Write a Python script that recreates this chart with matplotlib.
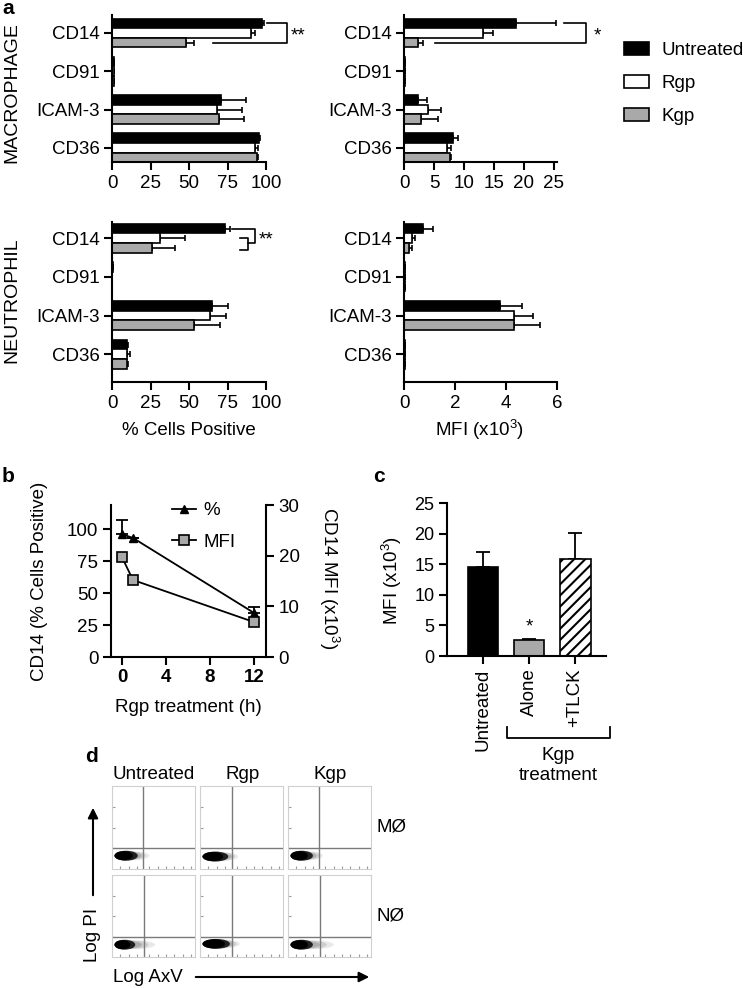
import matplotlib
matplotlib.use("Agg")
import matplotlib.pyplot as plt
from matplotlib.patches import Ellipse, FancyArrowPatch
import numpy as np

plt.rcParams['font.family'] = ['Liberation Sans', 'DejaVu Sans']
plt.rcParams['mathtext.default'] = 'regular'
plt.rcParams['hatch.linewidth'] = 1.5

# ---------------- data ----------------
markers = ['CD14', 'CD91', 'ICAM-3', 'CD36']
treatments = ['Untreated', 'Rgp', 'Kgp']

mac_pct = {'Untreated': [97.4, 1.0, 70.9, 95.2], 'Rgp': [90.4, 1.0, 68.5, 93.0], 'Kgp': [48.0, 1.0, 69.8, 94.1]}
mac_pct_err = {'Untreated': [1.2, 0.3, 16.0, 1.2], 'Rgp': [2.5, 0.3, 16.0, 1.5], 'Kgp': [5.5, 0.3, 16.0, 0.5]}
mac_mfi = {'Untreated': [18.7, 0.1, 2.4, 8.2], 'Rgp': [13.2, 0.1, 4.05, 7.1], 'Kgp': [2.4, 0.1, 2.9, 7.7]}
mac_mfi_err = {'Untreated': [6.7, 0.0, 1.4, 0.85], 'Rgp': [1.6, 0.0, 2.05, 0.7], 'Kgp': [0.8, 0.0, 2.7, 0.2]}
neu_pct = {'Untreated': [73.5, 0.5, 65.2, 9.8], 'Rgp': [31.0, 0.3, 63.7, 9.8], 'Kgp': [25.7, 0.3, 53.5, 10.0]}
neu_pct_err = {'Untreated': [3.2, 0.0, 10.0, 0.3], 'Rgp': [16.4, 0.0, 10.2, 1.7], 'Kgp': [15.2, 0.0, 16.7, 0.2]}
neu_mfi = {'Untreated': [0.76, 0.03, 3.75, 0.05], 'Rgp': [0.30, 0.03, 4.30, 0.05], 'Kgp': [0.20, 0.03, 4.30, 0.05]}
neu_mfi_err = {'Untreated': [0.39, 0.0, 0.89, 0.0], 'Rgp': [0.13, 0.0, 0.76, 0.0], 'Kgp': [0.10, 0.0, 1.05, 0.0]}

b_time = [0, 1, 12]
b_pct = [96, 93, 34.5]
b_pct_err = [11, 0, 4.5]
b_mfi = [19.7, 15.2, 6.9]
b_xticks = [0, 4, 8, 12]

c_labels = ['Untreated', 'Alone', '+TLCK']
c_vals = [14.5, 2.6, 15.8]
c_err = [2.5, 0.2, 4.3]

d_cols = ['Untreated', 'Rgp', 'Kgp']
d_rows = ['MØ', 'NØ']
d_gate_x = [[0.37, 0.38, 0.37], [0.39, 0.39, 0.39]]
d_gate_y = [[0.25, 0.25, 0.25], [0.24, 0.24, 0.24]]
d_core_end = [[0.31, 0.34, 0.30], [0.28, 0.36, 0.30]]
d_tail_end = [[0.45, 0.46, 0.42], [0.52, 0.48, 0.55]]
d_blob_y = [[0.16, 0.15, 0.16], [0.15, 0.16, 0.15]]

# ---------------- style ----------------
colors = {'Untreated': 'black', 'Rgp': 'white', 'Kgp': '#a9a9a9'}
FS = 13.5
W, H = 743, 988
fig = plt.figure(figsize=(W / 100, H / 100), dpi=100)


def add_ax(x0, y0, x1, y1):
    return fig.add_axes([x0 / W, 1 - y1 / H, (x1 - x0) / W, (y1 - y0) / H])


def style_ax(ax):
    for s in ['top', 'right']:
        ax.spines[s].set_visible(False)
    for s in ax.spines.values():
        s.set_linewidth(1.5)
    ax.tick_params(width=1.5, length=6, labelsize=FS, pad=3)


def hbar_panel(ax, vals, errs, xlim, xticks, ylim):
    pos = np.arange(len(markers))
    h = 0.25
    for i, t in enumerate(treatments):
        y = pos + (i - 1) * h
        ax.barh(y, vals[t], height=h, color=colors[t], edgecolor='black', linewidth=1.2, label=t, zorder=2)
        e = np.array(errs[t])
        ax.errorbar(vals[t], y, xerr=[np.zeros_like(e), e], fmt='none', ecolor='black',
                    elinewidth=1.2, capsize=2, capthick=1.2, zorder=1)
    ax.set_xlim(*xlim)
    ax.set_ylim(*ylim)
    ax.set_yticks(pos)
    ax.set_yticklabels(markers)
    ax.set_xticks(xticks)
    style_ax(ax)


A1 = add_ax(112, 15, 266, 162)
hbar_panel(A1, mac_pct, mac_pct_err, (0, 100), [0, 25, 50, 75, 100], (3.37, -0.47))
A2 = add_ax(404, 15, 557, 162)
hbar_panel(A2, mac_mfi, mac_mfi_err, (0, 25.5), [0, 5, 10, 15, 20, 25], (3.37, -0.47))
A3 = add_ax(112, 222, 266, 382)
hbar_panel(A3, neu_pct, neu_pct_err, (0, 100), [0, 25, 50, 75, 100], (3.72, -0.42))
A4 = add_ax(404, 222, 557, 382)
hbar_panel(A4, neu_mfi, neu_mfi_err, (0, 6), [0, 2, 4, 6], (3.72, -0.42))

# significance brackets
kw = dict(color='black', lw=1.2, clip_on=False)
A1.plot([100.5, 113.5, 113.5, 65.5], [-0.25, -0.25, 0.25, 0.25], **kw)
A1.text(116, 0.08, '**', fontsize=FS, va='center', ha='left')
A2.plot([26.6, 30.3, 30.3, 5.2], [-0.25, -0.25, 0.27, 0.27], **kw)
A2.text(31.6, 0.08, '*', fontsize=FS, va='center', ha='left')
A3.plot([78, 93, 93, 88.5], [-0.23, -0.23, 0.12, 0.12], **kw)
A3.plot([83, 88.5, 88.5, 83], [0.0, 0.0, 0.3, 0.3], **kw)
A3.text(95, 0.05, '**', fontsize=FS, va='center', ha='left')

handles, labels = A1.get_legend_handles_labels()
fig.legend(handles, labels, loc='upper left', bbox_to_anchor=(624 / W, 1 - 42 / H), frameon=False,
           fontsize=FS, handlelength=1.35, handleheight=0.7, handletextpad=0.65,
           labelspacing=0.84, borderpad=0, borderaxespad=0)

fig.text(12 / W, 1 - 93 / H, 'MACROPHAGE', rotation=90, ha='center', va='center', fontsize=14)
fig.text(12 / W, 1 - 300 / H, 'NEUTROPHIL', rotation=90, ha='center', va='center', fontsize=14)
fig.text(189 / W, 1 - 430 / H, '% Cells Positive', ha='center', va='center', fontsize=FS)
fig.text(480 / W, 1 - 430 / H, 'MFI (x10$^3$)', ha='center', va='center', fontsize=FS)

# ---------------- panel b ----------------
B = add_ax(111, 505, 266, 657)
B.plot(b_time, b_pct, color='black', lw=1.3, marker='^', markersize=6, label='%')
B.errorbar(b_time, b_pct, yerr=[np.zeros(3), b_pct_err], fmt='none', ecolor='black',
           elinewidth=1.3, capsize=4, capthick=1.3)
B.set_xlim(-1, 13.1)
B.set_ylim(0, 118.75)
B.set_yticks([0, 25, 50, 75, 100])
B.set_xticks(b_xticks)
B.set_xticklabels([str(v) for v in b_xticks], fontweight='bold')
style_ax(B)
B2 = B.twinx()
B2.plot(b_time, b_mfi, color='black', lw=1.3, marker='s', markersize=7.5, markerfacecolor='#a9a9a9',
        markeredgecolor='black', markeredgewidth=1.2, label='MFI')
B2.set_ylim(0, 30)
B2.set_yticks([0, 10, 20, 30])
for s in ['top', 'left', 'bottom']:
    B2.spines[s].set_visible(False)
B2.spines['right'].set_linewidth(1.5)
B2.tick_params(width=1.5, length=6, labelsize=FS, pad=3)
h1, l1 = B.get_legend_handles_labels()
h2, l2 = B2.get_legend_handles_labels()
B2.legend(h1 + h2, l1 + l2, loc='upper left', bbox_to_anchor=((172 - 111) / 155, (657 - 502) / 152),
          frameon=False, fontsize=FS, handlelength=1.3, handletextpad=0.4, labelspacing=0.78,
          borderpad=0, borderaxespad=0)
fig.text(40 / W, 1 - 581 / H, 'CD14 (% Cells Positive)', rotation=90, ha='center', va='center', fontsize=FS)
fig.text(329 / W, 1 - 578 / H, 'CD14 MFI (x10$^3$)', rotation=-90, ha='center', va='center', fontsize=FS)
fig.text(188 / W, 1 - 708 / H, 'Rgp treatment (h)', ha='center', va='center', fontsize=FS)

# ---------------- panel c ----------------
C = add_ax(447, 503, 606, 656)
cx = np.arange(len(c_labels))
C.bar(cx, c_vals, width=0.67, color=['black', '#a9a9a9', 'white'], edgecolor='black', linewidth=1.2,
      hatch=['', '', '///'], zorder=2)
C.errorbar(cx, c_vals, yerr=[np.zeros(3), c_err], fmt='none', ecolor='black', elinewidth=1.3,
           capsize=5, capthick=1.3, zorder=1)
C.set_xlim(-0.78, 2.67)
C.set_ylim(0, 25)
C.set_yticks([0, 5, 10, 15, 20, 25])
C.set_xticks(cx)
C.set_xticklabels(c_labels, rotation=90)
style_ax(C)
C.tick_params(axis='y', labelsize=13)
C.text(1, 4.7, '*', ha='center', va='center', fontsize=FS)
C.plot([0.52, 0.52, 2.76, 2.76], [-0.464, -0.536, -0.536, -0.464], color='black', lw=1.3,
       clip_on=False, transform=C.get_xaxis_transform())
fig.text(558 / W, 1 - 755 / H, 'Kgp', ha='center', va='center', fontsize=FS)
fig.text(558 / W, 1 - 775 / H, 'treatment', ha='center', va='center', fontsize=FS)
fig.text(392 / W, 1 - 580 / H, 'MFI (x10$^3$)', rotation=90, ha='center', va='center', fontsize=FS)

# ---------------- panel d ----------------
col_x = [(112, 195), (200, 283), (288, 371)]
row_y = [(786, 869), (875, 957)]
for r in range(2):
    for c in range(3):
        ax = add_ax(col_x[c][0], row_y[r][0], col_x[c][1], row_y[r][1])
        ax.set_xlim(0, 1)
        ax.set_ylim(0, 1)
        for s in ax.spines.values():
            s.set_color('#d0d0d0')
            s.set_linewidth(0.8)
        ax.set_xticks([0.1, 0.2, 0.3, 0.45, 0.55, 0.65, 0.75, 0.85, 0.95])
        ax.set_yticks([0.25, 0.5, 0.75])
        ax.tick_params(length=2, width=0.8, color='#9a9a9a', direction='in', labelbottom=False, labelleft=False)
        ax.axvline(d_gate_x[r][c], color='#7a7a7a', lw=1.0)
        ax.axhline(d_gate_y[r][c], color='#7a7a7a', lw=1.0)
        ce, te, by = d_core_end[r][c], d_tail_end[r][c], d_blob_y[r][c]
        for k, a in enumerate([0.12, 0.18, 0.25]):
            right = te - k * (te - ce) / 3
            ax.add_patch(Ellipse(((0.03 + right) / 2, by), right - 0.03, 0.11 - 0.01 * k,
                                 color='#505050', alpha=a, lw=0))
        ax.add_patch(Ellipse(((0.03 + ce) / 2, by), ce - 0.03, 0.12, color='#202020', lw=0))
        ax.add_patch(Ellipse(((0.03 + ce) / 2 - 0.03, by), ce - 0.09, 0.11, color='black', lw=0))
for c, lab in enumerate(d_cols):
    fig.text(((col_x[c][0] + col_x[c][1]) / 2 + (0 if c == 0 else 1)) / W, 1 - 774 / H, lab,
             ha='center', va='center', fontsize=FS)
for r, lab in enumerate(d_rows):
    fig.text(377 / W, 1 - ((row_y[r][0] + row_y[r][1]) / 2) / H, lab,
             ha='left', va='center', fontsize=FS)
fig.add_artist(FancyArrowPatch((93 / W, 1 - 898 / H), (93 / W, 1 - 805 / H), transform=fig.transFigure,
                               arrowstyle='-|>', mutation_scale=15, lw=1.5, color='black'))
fig.add_artist(FancyArrowPatch((193 / W, 1 - 977 / H), (372 / W, 1 - 977 / H), transform=fig.transFigure,
                               arrowstyle='-|>', mutation_scale=15, lw=1.5, color='black'))
fig.text(93 / W, 1 - 935 / H, 'Log PI', rotation=90, ha='center', va='center', fontsize=FS)
fig.text(113 / W, 1 - 977 / H, 'Log AxV', ha='left', va='center', fontsize=FS)

# panel letters
for txt, x, y in [('a', 2, 8), ('b', 2, 477), ('c', 373, 477), ('d', 85, 756)]:
    fig.text(x / W, 1 - y / H, txt, ha='left', va='center', fontsize=15, fontweight='bold')

fig.savefig('out.png', dpi=100)
